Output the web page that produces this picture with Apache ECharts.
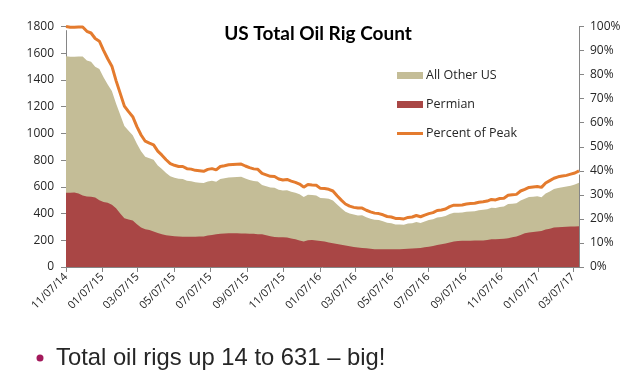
<!DOCTYPE html>
<html>
<head>
<meta charset="utf-8">
<script src="https://cdn.jsdelivr.net/npm/echarts@6/dist/echarts.min.js"></script>
<style>
html,body{margin:0;padding:0;background:#fff;}
#c{width:640px;height:389px;}
</style>
</head>
<body>
<div id="c"></div>
<script>
// Weekly data, Fridays from 2014-11-07 to 2017-03-17
const firstWeek = '2014-11-07';
const weekCount = 124;

// Total US oil rigs (top of the tan area)
const totalRigs = [
1578,1574,1574,1575,1575,1546,1536,1499,
1482,1421,1366,1317,1223,1140,1056,1019,986,922,866,825,813,802,760,734,703,679,668,660,659,646,642,635,631,628,640,645,638,659,664,670,672,674,675,662,652,644,640,614,605,595,594,578,572,574,564,555,545,524,541,538,
536,516,515,510,498,467,439,413,400,392,386,387,372,362,354,351,343,332,328,318,318,316,325,328,337,330,341,351,357,371,374,381,396,406,406,407,414,416,418,425,428,432,443,441,450,452,471,474,477,498,510,523,525,
529,522,551,566,583,591,597,602,609,617,631
];

// Permian rigs
const permianRigs = [
556,556,557,550,535,528,525,520,
500,486,480,465,440,400,365,355,348,320,295,282,277,265,255,245,237,234,230,228,227,227,227,227,228,228,235,240,245,248,250,252,252,252,251,250,249,248,246,245,238,230,224,222,222,220,214,208,198,190,200,203,
198,195,190,183,178,172,167,160,155,150,146,143,140,136,133,132,132,132,132,132,132,134,136,138,140,143,147,152,157,165,170,175,183,190,194,197,197,197,198,198,198,203,207,208,210,212,215,222,228,240,252,258,262,
265,270,280,287,295,298,300,302,303,304,305
];

// Percent of peak (%)
const percentOfPeak = [
100.0,99.7,99.7,99.8,99.8,98.0,97.3,95.0,
93.9,90.1,86.6,83.5,77.5,72.2,66.9,64.6,62.5,58.4,54.9,52.3,51.5,50.8,48.2,46.5,44.6,43.0,42.3,41.8,41.8,40.9,40.7,40.2,40.0,39.8,40.6,40.9,40.4,41.8,42.1,42.5,42.6,42.7,42.8,42.0,41.3,40.8,40.6,38.9,38.3,37.7,37.6,36.6,36.2,36.4,35.7,35.2,34.5,33.2,34.3,34.1,
34.0,32.7,32.6,32.3,31.6,29.6,27.8,26.2,25.3,24.8,24.5,24.5,23.6,22.9,22.4,22.2,21.7,21.0,20.8,20.2,20.2,20.0,20.6,20.8,21.4,20.9,21.6,22.2,22.6,23.5,23.7,24.1,25.1,25.7,25.7,25.8,26.2,26.4,26.5,26.9,27.1,27.4,28.1,27.9,28.5,28.6,29.8,30.0,30.2,31.6,32.3,33.1,33.3,
33.5,33.1,34.9,35.9,36.9,37.5,37.8,38.1,38.6,39.1,40.0
];

const xTickDates = ['2014-11-07','2015-01-07','2015-03-07','2015-05-07','2015-07-07','2015-09-07','2015-11-07','2016-01-07','2016-03-07','2016-05-07','2016-07-07','2016-09-07','2016-11-07','2017-01-07','2017-03-07'];
const xTickLabels = ['11/07/14','01/07/15','03/07/15','05/07/15','07/07/15','09/07/15','11/07/15','01/07/16','03/07/16','05/07/16','07/07/16','09/07/16','11/07/16','01/07/17','03/07/17'];
const leftTicks = [0,200,400,600,800,1000,1200,1400,1600,1800];
const rightTickLabels = ['0%','10%','20%','30%','40%','50%','60%','70%','80%','90%','100%'];

const DAY = 86400000;
const t0 = Date.parse(firstWeek);
// x positions in days since the first week
const weeks = [];
for (let i = 0; i < weekCount; i++) weeks.push(i * 7);
const tickVals = xTickDates.map(d => Math.round((Date.parse(d) - t0) / DAY));

const pair = arr => arr.map((v, i) => [weeks[i], v]);

const axisGrey = '#868686';
const txt = '#262626';
const fam = 'Open Sans';

const chart = echarts.init(document.getElementById('c'), null, {renderer: 'canvas'});
chart.setOption({
  animation: false,
  backgroundColor: '#fff',
  title: {
    text: 'US Total Oil Rig Count',
    left: 313, top: 19, textAlign: 'center',
    textStyle: {fontFamily: 'Lato', fontWeight: 'bold', fontSize: 19, color: '#000'}
  },
  legend: {
    orient: 'vertical',
    left: 397, top: 69, padding: 0,
    itemWidth: 26, itemHeight: 7, itemGap: 16,
    textStyle: {fontFamily: fam, fontSize: 12.5, color: txt, padding: [0, 0, 0, -2]},
    data: [
      {name: 'All Other US', icon: 'rect'},
      {name: 'Permian', icon: 'rect'},
      {name: 'Percent of Peak', icon: 'path://M0,0 L0,0 M0,2 L26,2 L26,5 L0,5 Z M26,7 L26,7'}
    ]
  },
  grid: {left: 66, right: 61, top: 26.5, bottom: 122, containLabel: false},
  xAxis: {
    type: 'value',
    min: weeks[0], max: weeks[weeks.length - 1],
    axisLine: {onZero: false, lineStyle: {color: axisGrey, width: 1}},
    axisTick: {show: true, customValues: tickVals, length: 5, lineStyle: {color: axisGrey}},
    axisLabel: {
      customValues: tickVals,
      rotate: 45, margin: 8,
      fontFamily: fam, fontSize: 11, color: txt,
      formatter: v => { const k = tickVals.indexOf(v); return k >= 0 ? xTickLabels[k] : ''; }
    },
    splitLine: {show: false}
  },
  yAxis: [
    {
      type: 'value', min: 0, max: 1800, interval: 200,
      axisLine: {show: true, lineStyle: {color: axisGrey}},
      axisTick: {show: true, length: 5, lineStyle: {color: axisGrey}},
      axisLabel: {fontFamily: fam, fontSize: 12, color: txt, margin: 12,
        formatter: v => String(leftTicks[leftTicks.indexOf(v)])},
      splitLine: {show: false}
    },
    {
      type: 'value', min: 0, max: 100, interval: 10, position: 'right',
      axisLine: {show: true, lineStyle: {color: axisGrey}},
      axisTick: {show: true, length: 5, lineStyle: {color: axisGrey}},
      axisLabel: {fontFamily: fam, fontSize: 12, color: txt, margin: 11,
        formatter: v => rightTickLabels[Math.round(v / 10)]},
      splitLine: {show: false}
    }
  ],
  series: [
    {
      name: 'All Other US', type: 'line', yAxisIndex: 0,
      data: pair(totalRigs), symbol: 'none',
      lineStyle: {width: 0, color: '#C4BD97'},
      itemStyle: {color: '#C4BD97'},
      areaStyle: {color: '#C4BD97', opacity: 1}
    },
    {
      name: 'Permian', type: 'line', yAxisIndex: 0,
      data: pair(permianRigs), symbol: 'none',
      lineStyle: {width: 0, color: '#A94645'},
      itemStyle: {color: '#A94645'},
      areaStyle: {color: '#A94645', opacity: 1}
    },
    {
      name: 'outline', type: 'line', yAxisIndex: 1,
      data: pair(percentOfPeak), symbol: 'none', silent: true,
      lineStyle: {width: 7, color: '#ffffff'}, z: 3
    },
    {
      name: 'Percent of Peak', type: 'line', yAxisIndex: 1,
      data: pair(percentOfPeak), symbol: 'none',
      lineStyle: {width: 3, color: '#E47B2E'},
      itemStyle: {color: '#E47B2E'}, z: 4
    }
  ],
  graphic: [
    {type: 'circle', shape: {cx: 40, cy: 358, r: 3.5}, style: {fill: '#A3195B'}},
    {type: 'text', left: 56, top: 346,
     style: {text: 'Total oil rigs up 14 to 631 \u2013 big!', font: '23.8px "Liberation Sans"', fill: '#262626'}}
  ]
});
</script>
</body>
</html>
